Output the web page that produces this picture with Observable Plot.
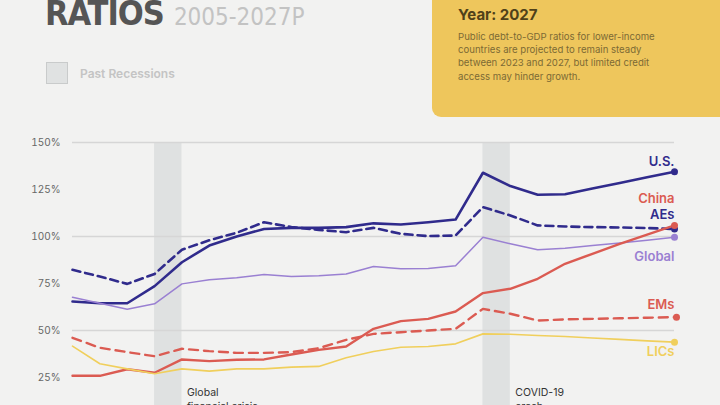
<!DOCTYPE html>
<html>
<head>
<meta charset="utf-8">
<script src="https://cdn.jsdelivr.net/npm/d3@7"></script>
<script src="https://cdn.jsdelivr.net/npm/@observablehq/plot@0.6"></script>
<style>
  html, body { margin: 0; padding: 0; }
  body { width: 720px; height: 405px; overflow: hidden; position: relative; background: #f2f2f1; font-family: Inter, "Noto Sans", sans-serif; }
  #title { position: absolute; left: 45px; top: -7px; white-space: nowrap; line-height: 40px; }
  #title .big { font-family: "DejaVu Sans", sans-serif; font-stretch: condensed; font-weight: bold; font-size: 34px; color: #555555; letter-spacing: -1px; }
  #title .years { font-family: "DejaVu Sans", sans-serif; font-stretch: condensed; font-size: 24px; color: #c3c3c3; margin-left: 10px; }
  #legend { position: absolute; left: 46px; top: 62px; display: flex; align-items: center; }
  #legend .sw { width: 22px; height: 22px; background: #e0e2e2; border: 1.5px solid #c9cbcb; box-sizing: border-box; }
  #legend .lb { margin-left: 12px; font-size: 12px; font-weight: 600; color: #c4c4c4; }
  #note { position: absolute; left: 432px; top: -20px; width: 300px; height: 137px; background: #eec65c; border-radius: 9px; box-sizing: border-box; padding: 26px 0 0 26px; z-index: 2; }
  #note .h { font-size: 15px; font-weight: 700; color: #4f4119; line-height: 18px; }
  #note .t { margin-top: 6px; font-size: 9.6px; color: #7c6a35; line-height: 13.2px; white-space: nowrap; }
  #chart { position: absolute; left: 0; top: 0; }
</style>
</head>
<body>
<div id="title"><span class="big">RATIOS</span><span class="years">2005-2027P</span></div>
<div id="legend"><div class="sw"></div><div class="lb">Past Recessions</div></div>
<div id="note"><div class="h">Year: 2027</div><div class="t">Public debt-to-GDP ratios for lower-income<br>countries are projected to remain steady<br>between 2023 and 2027, but limited credit<br>access may hinder growth.</div></div>
<div id="chart"></div>
<script>
const years = d3.range(2005, 2028);
const us     = [65.4, 64.5, 64.5, 73.6, 86.3, 95.2, 100.0, 104.0, 104.6, 104.6, 105.0, 107.0, 106.4, 107.6, 109.0, 133.9, 126.8, 122.2, 122.5, 125.5, 128.5, 131.5, 134.4];
const aes    = [82.3, 78.7, 74.8, 80.1, 93.0, 98.0, 102.0, 107.6, 105.0, 103.5, 102.3, 104.6, 101.4, 100.2, 100.5, 115.6, 111.2, 105.9, 105.3, 105.0, 104.8, 104.5, 104.0];
const global = [67.7, 64.5, 61.3, 64.2, 74.8, 77.0, 78.0, 79.8, 78.7, 79.1, 80.0, 84.0, 82.8, 83.0, 84.4, 99.6, 96.1, 92.9, 93.8, 95.2, 96.6, 98.0, 99.6];
const china  = [25.9, 25.9, 29.4, 27.5, 34.6, 33.7, 34.4, 34.6, 37.2, 39.7, 41.5, 50.9, 55.0, 56.2, 60.1, 69.9, 72.2, 77.5, 85.5, 90.8, 96.1, 101.0, 105.9];
const ems    = [46.1, 40.8, 38.5, 36.3, 40.3, 39.0, 38.1, 38.1, 38.5, 40.6, 45.0, 48.2, 49.1, 50.0, 50.9, 61.5, 58.9, 55.3, 55.9, 56.2, 56.5, 56.8, 57.1];
const lics   = [41.7, 32.3, 29.6, 27.0, 29.6, 28.4, 29.6, 29.6, 30.5, 30.9, 35.5, 38.8, 41.1, 41.5, 42.9, 48.2, 48.0, 47.3, 46.8, 46.0, 45.3, 44.5, 43.8];
const recessionStart = [2008, 2020];
const recessionEnd   = [2009, 2021];
const recessionLabels = ["Global\nfinancial crisis", "COVID-19\ncrash"];
const yTicks = [25, 50, 75, 100, 125, 150];
const gridTicks = [50, 100, 150];

const NAVY = "#302b8c", RED = "#db5b52", PURPLE = "#9a80d2", YELLOW = "#f0cf5c";

const rows = (vals) => years.map((y, i) => ({year: y, value: vals[i]}));
const last = (vals) => [{year: years[years.length - 1], value: vals[vals.length - 1]}];
const recessions = recessionStart.map((s, i) => ({start: s, end: recessionEnd[i], label: recessionLabels[i]}));

const series = [
  {name: "U.S.", vals: us, color: NAVY, width: 2.6, dash: null, dy: -10},
  {name: "AEs", vals: aes, color: NAVY, width: 2.6, dash: "8,5", dy: -14},
  {name: "Global", vals: global, color: PURPLE, width: 1.5, dash: null, dy: 20},
  {name: "China", vals: china, color: RED, width: 2.4, dash: null, dy: -27},
  {name: "EMs", vals: ems, color: RED, width: 2.4, dash: "9,6", dy: -12},
  {name: "LICs", vals: lics, color: YELLOW, width: 1.6, dash: null, dy: 10}
];

const marks = [
  Plot.rect(recessions, {x1: "start", x2: "end", fill: "#dfe1e1"}),
  Plot.ruleY(gridTicks, {stroke: "#d6d6d6", strokeWidth: 1.5}),
  Plot.axisY({ticks: yTicks, tickSize: 0, tickPadding: 12, tickFormat: d => d + "%", fontSize: 10, fill: "#666", label: null}),
  Plot.text(recessions, {x: "end", y: 20.3, text: "label", textAnchor: "start", lineAnchor: "top", dx: 5, fontSize: 10.5, fill: "#333", lineHeight: 1.3})
];
for (const s of series) {
  marks.push(Plot.line(rows(s.vals), {x: "year", y: "value", stroke: s.color, strokeWidth: s.width, strokeDasharray: s.dash, curve: "linear"}));
}
for (const s of series) {
  marks.push(Plot.dot(last(s.vals), {x: "year", y: "value", fill: s.color, r: 3.5, dx: s.name === "EMs" ? 2 : 0}));
  marks.push(Plot.text(last(s.vals), {x: "year", y: "value", text: () => s.name, textAnchor: "end", dy: s.dy, fill: s.color, fontSize: 13, fontWeight: 600}));
}

const chart = Plot.plot({
  width: 720,
  height: 405,
  marginTop: 142,
  marginBottom: 0,
  marginLeft: 72,
  marginRight: 46,
  x: {domain: [2005, 2027], axis: null},
  y: {domain: [10.1, 150], axis: null},
  style: {background: "transparent", fontFamily: "Inter, 'Noto Sans', sans-serif", overflow: "visible"},
  marks
});
document.getElementById("chart").appendChild(chart);
</script>
</body>
</html>
